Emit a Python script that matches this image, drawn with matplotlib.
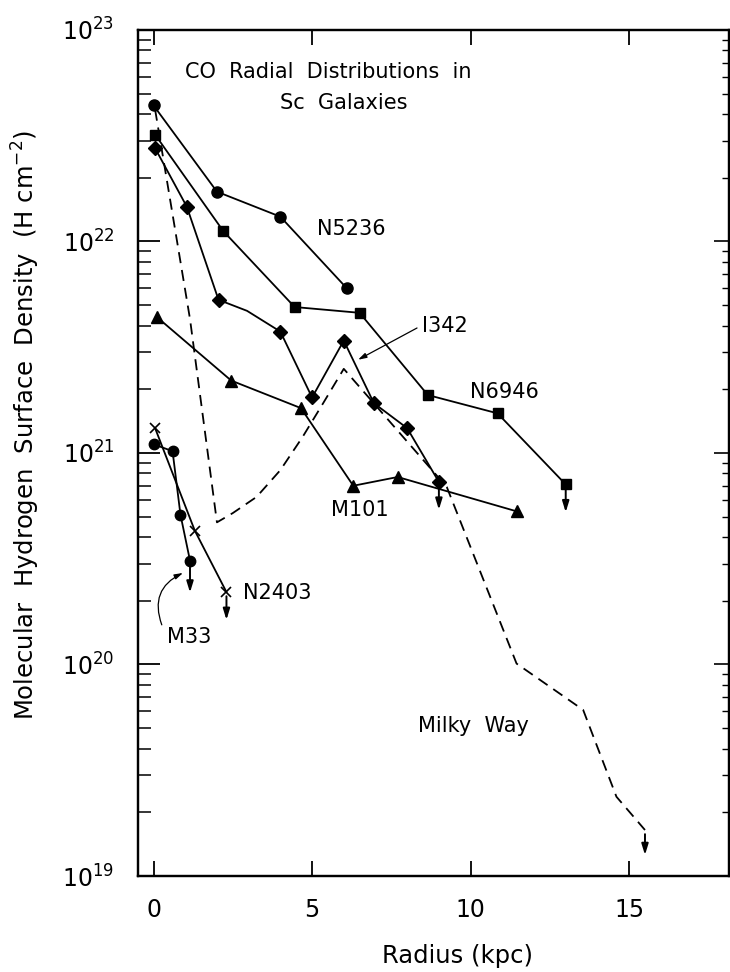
import matplotlib
matplotlib.use("Agg")
import matplotlib.pyplot as plt
from matplotlib.ticker import LogLocator, NullFormatter, FixedLocator

plt.rcParams['font.family'] = ['DejaVu Sans']
plt.rcParams['mathtext.fontset'] = 'dejavusans'
plt.rcParams['lines.scale_dashes'] = False

# ---- data (radius in kpc, H2 surface density in H cm^-2) ----
n5236_r = [0.0, 2.0, 4.0, 6.1]
n5236_n = [4.4e22, 1.72e22, 1.31e22, 6.0e21]

n6946_r = [0.05, 2.2, 4.45, 6.5, 8.65, 10.85, 13.0]
n6946_n = [3.2e22, 1.12e22, 4.9e21, 4.6e21, 1.88e21, 1.54e21, 7.1e20]

i342_r = [0.05, 1.05, 2.05, 2.95, 4.0, 5.0, 6.0, 6.95, 8.0, 9.0]
i342_n = [2.76e22, 1.46e22, 5.3e21, 4.7e21, 3.75e21, 1.83e21, 3.4e21, 1.72e21, 1.31e21, 7.3e20]
i342_marked = [0, 1, 2, 4, 5, 6, 7, 8, 9]

m101_r = [0.1, 2.45, 4.65, 6.3, 7.7, 11.45]
m101_n = [4.4e21, 2.2e21, 1.63e21, 7.0e20, 7.7e20, 5.3e20]

m33_r = [0.0, 0.6, 0.85, 1.15]
m33_n = [1.1e21, 1.02e21, 5.1e20, 3.1e20]

n2403_r = [0.05, 1.3, 2.3]
n2403_n = [1.31e21, 4.3e20, 2.2e20]

mw_r = [0.05, 1.15, 2.0, 2.5, 3.25, 4.0, 4.7, 5.35, 6.0, 9.25, 11.45, 13.55, 14.6, 15.5]
mw_n = [4.2e22, 4.3e21, 4.7e20, 5.2e20, 6.2e20, 8.3e20, 1.19e21, 1.72e21, 2.5e21,
        6.9e20, 1.01e20, 6.1e19, 2.37e19, 1.65e19]

xticks = [0, 5, 10, 15]
xticklabels = ['0', '5', '10', '15']

# ---- figure ----
fig = plt.figure(figsize=(7.3, 9.72), dpi=100)
ax = fig.add_axes([138/730, 1-876/972, (729-138)/730, (876-30)/972])
ax.set_yscale('log')
ax.set_xlim(-0.49, 18.15)
ax.set_ylim(1e19, 1e23)

lw = 1.3
kw = dict(color='black', lw=lw)
ax.plot(n5236_r, n5236_n, marker='o', ms=8, **kw)
ax.plot(n6946_r, n6946_n, marker='s', ms=7.5, **kw)
ax.plot(i342_r, i342_n, marker='D', ms=7, markevery=i342_marked, **kw)
ax.plot(m101_r, m101_n, marker='^', ms=9, **kw)
ax.plot(m33_r, m33_n, marker='o', ms=7.5, **kw)
ax.plot(n2403_r, n2403_n, marker='x', ms=7, mew=1.2, **kw)
ax.plot(mw_r, mw_n, color='black', lw=lw, dashes=(8, 5))

# upper-limit arrows on last points
def down_arrow(x, y, length=20):
    ax.annotate('', xy=(x, y), xycoords='data',
                xytext=(0, -length), textcoords='offset points',
                arrowprops=dict(arrowstyle='<|-,head_length=0.65,head_width=0.2',
                                color='black', lw=1.4, shrinkA=0, shrinkB=3))

down_arrow(n6946_r[-1], n6946_n[-1])
down_arrow(i342_r[-1], i342_n[-1])
down_arrow(m33_r[-1], m33_n[-1], 23)
down_arrow(n2403_r[-1], n2403_n[-1])
down_arrow(mw_r[-1], mw_n[-1], 18)

# ---- labels inside ----
fs = 15
ax.text(0.99, 6.3e22, 'CO  Radial  Distributions  in', fontsize=fs, va='center', ha='left')
ax.text(3.99, 4.5e22, 'Sc  Galaxies', fontsize=fs, va='center', ha='left')
ax.text(5.16, 1.15e22, 'N5236', fontsize=fs, va='center', ha='left')
ax.text(8.47, 4.0e21, 'I342', fontsize=fs, va='center', ha='left')
ax.annotate('', xy=(6.45, 2.76e21), xytext=(8.31, 3.9e21),
            arrowprops=dict(arrowstyle='-|>,head_length=0.5,head_width=0.15',
                            color='black', lw=0.9, shrinkA=0, shrinkB=0))
ax.text(9.98, 1.94e21, 'N6946', fontsize=fs, va='center', ha='left')
ax.text(5.6, 5.37e20, 'M101', fontsize=fs, va='center', ha='left')
ax.text(2.82, 2.18e20, 'N2403', fontsize=fs, va='center', ha='left')
ax.text(0.42, 1.35e20, 'M33', fontsize=fs, va='center', ha='left')
ax.annotate('', xy=(0.93, 2.71e20), xytext=(0.26, 1.54e20),
            arrowprops=dict(arrowstyle='-|>,head_length=0.5,head_width=0.15',
                            color='black', lw=0.9, shrinkA=0, shrinkB=0,
                            connectionstyle='arc3,rad=-0.45'))
ax.text(8.34, 5.1e19, 'Milky  Way', fontsize=fs, va='center', ha='left')

# ---- axes styling ----
for s in ax.spines.values():
    s.set_linewidth(1.6)

ax.xaxis.set_major_locator(FixedLocator(xticks))
ax.set_xticklabels(xticklabels, fontsize=17)
ax.yaxis.set_major_locator(LogLocator(base=10, numticks=10))
ax.yaxis.set_minor_locator(LogLocator(base=10, subs=range(2, 10), numticks=20))
ax.yaxis.set_minor_formatter(NullFormatter())
ax.tick_params(axis='x', which='major', direction='in', length=11, width=1.3,
               top=True, bottom=True, pad=16)
ax.tick_params(axis='y', which='major', direction='in', length=16, width=1.3,
               left=True, right=False, labelsize=17, pad=17)
ax.tick_params(axis='y', which='minor', direction='in', length=9, width=1.1,
               left=True, right=False)

ax2 = ax.twinx()
ax2.set_yscale('log')
ax2.set_ylim(ax.get_ylim())
ax2.yaxis.set_major_locator(LogLocator(base=10, numticks=10))
ax2.yaxis.set_minor_locator(LogLocator(base=10, subs=range(2, 10), numticks=20))
ax2.yaxis.set_minor_formatter(NullFormatter())
ax2.tick_params(axis='y', which='major', direction='in', length=11, width=1.2,
                labelright=False)
ax2.tick_params(axis='y', which='minor', direction='in', length=5, width=1.0)
for s in ax2.spines.values():
    s.set_linewidth(1.6)

ax.set_xlabel('Radius (kpc)', fontsize=17.5)
ax.xaxis.set_label_coords(0.54, -0.08)
ax.set_ylabel('Molecular  Hydrogen  Surface  Density  (H cm$^{-2}$)', fontsize=17.5)
ax.yaxis.set_label_coords(-0.162, 0.533)

fig.savefig('out.png', dpi=100)
